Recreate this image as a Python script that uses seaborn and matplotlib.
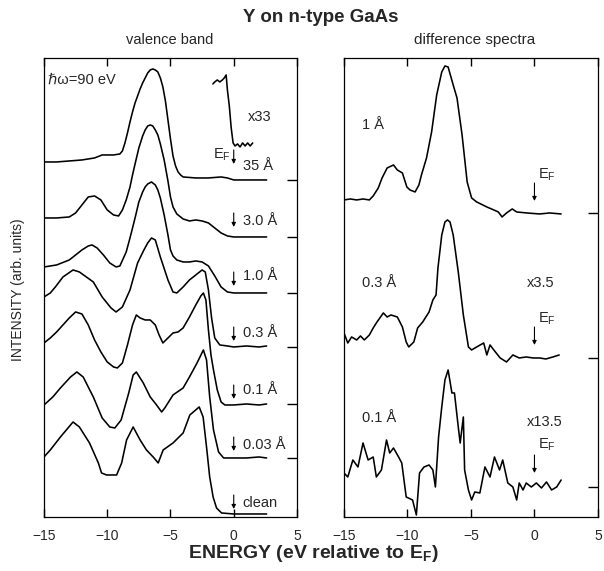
import numpy as np
import pandas as pd
import matplotlib
matplotlib.use('Agg')
import matplotlib.pyplot as plt
import seaborn as sns

# ---------------- data (energy in eV rel. to E_F, intensity arb. units) -------------
vb_labels = ['35 Å', '3.0 Å', '1.0 Å', '0.3 Å', '0.1 Å', '0.03 Å', 'clean']
vb_offsets = [337, 280, 224, 170, 113, 59, 3]

e_35 = [-15, -14, -13, -12, -11, -10.4, -10, -9.5, -9.0, -8.8, -8.6, -8.4, -8.2, -8.0, -7.8,
        -7.6, -7.4, -7.2, -7.0, -6.8, -6.6, -6.4, -6.2, -6.0, -5.8, -5.6, -5.4, -5.2, -5.0,
        -4.8, -4.6, -4.4, -4.2, -4.0, -3.0, -2.0, -1.0, -0.5, 0, 1, 2, 2.6]
i_35 = [18, 18, 19, 20, 22, 25, 25, 25, 26, 29, 37, 47, 58, 68, 77,
        84, 91, 97, 102, 107, 110, 111, 110, 108, 102, 93, 79, 60, 41,
        24, 14, 8, 5, 3, 2, 2, 3, 2, 0, 0, 0, 0]

e_x33 = [-1.65, -1.5, -1.3, -1.1, -0.9, -0.75, -0.6, -0.5, -0.35, -0.2, -0.05, 0.1, 0.3, 0.5,
         0.7, 0.9, 1.1, 1.3, 1.5]
i_x33 = [96, 98, 100, 98, 100, 102, 105, 90, 74, 52, 37, 34, 36, 33, 37, 34, 37, 34, 37]

e_30 = [-15, -14, -13, -12.5, -12, -11.5, -11, -10.5, -10, -9.5, -9.1, -8.8, -8.5, -8.2, -8.0,
        -7.8, -7.5, -7.2, -7.0, -6.8, -6.6, -6.4, -6.2, -6.0, -5.8, -5.5, -5.2, -5.0, -4.8,
        -4.5, -4, -3.5, -3, -2.5, -2, -1.5, -1, -0.5, 0, 1, 2, 2.6]
i_30 = [19, 19, 20, 24, 32, 40, 41, 37, 27, 22, 21, 27, 37, 50, 62,
        73, 89, 101, 107, 111, 112, 111, 107, 102, 93, 77, 56, 40, 30,
        23, 18, 16, 17, 16, 14, 9, 4, 1, 0, 0, 0, 0]

e_10 = [-15, -14, -13, -12.5, -12, -11.5, -11.2, -10.8, -10.3, -9.8, -9.3, -9.0, -8.5, -8.2,
        -8.0, -7.8, -7.5, -7.2, -7.0, -6.8, -6.5, -6.2, -6.0, -5.8, -5.5, -5.2, -5.0, -4.8,
        -4.5, -4, -3.5, -3, -2.5, -2, -1.5, -1, -0.5, 0, 1, 2, 2.6]
i_10 = [26, 28, 33, 38, 43, 47, 48, 45, 38, 30, 26, 27, 41, 55,
        65, 75, 91, 101, 106, 109, 111, 108, 103, 95, 78, 58, 43, 37,
        33, 31, 31, 32, 31, 27, 17, 6, 1, 0, 0, 0, 0]

e_03 = [-15, -14.5, -14.1, -13.5, -12.7, -12.2, -11.1, -10.4, -9.7, -9.3, -8.8, -8.2, -7.6, -7.1,
        -6.8, -6.5, -6.2, -5.8, -5.2, -4.8, -4.5, -4.0, -3.5, -3.0, -2.5, -2.25, -2.0, -1.75,
        -1.5, -1.1, -0.5, 0, 1, 2, 2.6]
i_03 = [50, 54, 60, 70, 77, 75, 65, 50, 39, 35, 40, 57, 84, 97,
        104, 109, 107, 90, 67, 55, 54, 60, 67, 72, 77, 75, 57, 29,
        9, 2, 1, 0, 1, 0, 1]

e_01 = [-15, -14.5, -14, -13.5, -13, -12.5, -12, -11.5, -11, -10.5, -10, -9.5, -9.2, -8.8, -8.4,
        -8.0, -7.7, -7.4, -7.0, -6.6, -6.2, -5.9, -5.6, -5.2, -4.8, -4.4, -4.0, -3.5, -3.0, -2.6,
        -2.4, -2.2, -2.0, -1.8, -1.6, -1.3, -1.0, -0.7, 0, 1, 2, 2.6]
i_01 = [61, 66, 72, 79, 86, 92, 90, 79, 64, 52, 42, 37, 36, 41, 59,
        79, 89, 86, 84, 84, 79, 69, 61, 66, 71, 72, 76, 87, 99, 108,
        111, 104, 74, 49, 34, 14, 2, -1, -1, 0, -1, 0]

e_003 = [-15, -14.3, -13.7, -12.9, -12.4, -11.9, -11.1, -10.4, -9.8, -9.4, -8.9, -8.3, -7.95,
         -7.7, -7.15, -6.6, -6.1, -5.7, -5.45, -4.8, -4.0, -3.5, -2.9, -2.4, -2.15, -1.9, -1.6,
         -1.2, -0.8, 0, 1, 2, 2.6]
i_003 = [53, 61, 70, 81, 86, 81, 61, 40, 31, 30, 38, 65, 83,
         86, 75, 61, 53, 46, 50, 63, 70, 81, 95, 108, 98, 61, 28,
         6, 0, 0, 0, 1, 0]

e_clean = [-15, -14.5, -13.7, -12.7, -12.2, -11.4, -10.7, -10.45, -10.05, -9.26, -8.86, -8.47,
           -7.95, -7.4, -6.9, -6.37, -5.97, -5.58, -4.8, -4.0, -3.47, -2.73, -2.42, -2.15, -1.9,
           -1.63, -1.36, -0.96, 0, 1, 2, 2.6]
i_clean = [57, 64, 77, 92, 87, 71, 51, 41, 39, 39, 51, 74,
           87, 74, 64, 57, 51, 64, 71, 81, 99, 107, 97, 67, 37,
           17, 6, 1, 0, 0, 0, 0]

diff_labels = ['1 Å', '0.3 Å', '0.1 Å']
diff_scales = ['', 'x3.5', 'x13.5']
diff_offsets = [304, 159, 30]

e_d1 = [-15, -14.5, -14.0, -13.5, -13.0, -12.7, -12.3, -12.0, -11.6, -11.1,
        -10.8, -10.4, -10.05, -9.8, -9.4, -9.1, -8.9, -8.5, -8.1, -7.7,
        -7.3, -7.05, -6.8, -6.4, -6.1, -5.7, -5.3, -4.95, -4.55, -3.75,
        -3.2, -2.85, -2.55, -2.2, -1.75, -1.4, -0.6, 0.4, 1.2, 2.1]
i_d1 = [13, 14, 13, 14, 13, 17, 25, 35, 45, 48,
        43, 40, 26, 23, 21, 28, 38, 55, 81, 118,
        141, 147, 146, 128, 115, 78, 31, 15, 11, 6,
        3, 1, -4, 0, 4, 1, 0, -1, 0, -1]

e_d03 = [-15, -14.7, -14.4, -14.0, -13.7, -13.4, -13.0, -12.7, -12.4, -11.9,
         -11.6, -11.3, -10.8, -10.4, -10.1, -9.9, -9.5, -9.2, -8.8, -8.3,
         -8.0, -7.75, -7.6, -7.3, -7.05, -6.85, -6.65, -6.4, -6.0, -5.6,
         -5.2, -4.95, -4.55, -4.0, -3.75, -3.5, -3.2, -2.7, -2.2, -1.7,
         -1.2, -0.65, -0.1, 0.4, 0.9, 1.45, 1.95]
i_d03 = [25, 15, 21, 18, 22, 18, 23, 30, 36, 45,
         41, 43, 41, 31, 16, 11, 16, 30, 36, 46,
         58, 63, 90, 123, 136, 138, 136, 123, 86, 43,
         11, 8, 11, 15, 3, 13, 8, 0, -4, 3,
         0, 1, 0, 0, -1, 1, 3]

e_d01 = [-15, -14.7, -14.3, -13.9, -13.5, -13.1, -12.7, -12.45, -12.05, -11.65,
         -11.4, -11.1, -10.7, -10.45, -10.1, -9.6, -9.3, -9.05, -8.7, -8.3,
         -8.0, -7.8, -7.55, -7.3, -7.05, -6.8, -6.5, -6.3, -6.0, -5.85,
         -5.6, -5.5, -5.2, -4.95, -4.7, -4.3, -3.9, -3.5, -3.15, -2.75,
         -2.5, -2.1, -1.7, -1.4, -1.2, -0.9, -0.65, -0.25, 0.15, 0.55,
         0.95, 1.35, 1.75, 2.1]
i_d01 = [14, 10, 27, 20, 44, 27, 30, 10, 17, 47,
         34, 39, 30, 24, -10, -13, -28, 14, 20, 22,
         17, 0, 50, 80, 107, 117, 94, 94, 60, 44,
         70, 17, -3, -13, -5, -6, 20, 10, 30, 17,
         27, 4, 0, -13, 4, -3, 4, 0, 4, -1,
         5, -3, 0, 7]

x_ticks = [-15, -10, -5, 0, 5]

# ---------------- style ----------------
sns.set_theme(style='ticks')
plt.rcParams['font.family'] = ['Liberation Sans', 'DejaVu Sans']
plt.rcParams['mathtext.fontset'] = 'custom'
plt.rcParams['mathtext.rm'] = 'Liberation Sans'
plt.rcParams['mathtext.bf'] = 'Liberation Sans:bold'
plt.rcParams['axes.linewidth'] = 0.9
plt.rcParams['axes.edgecolor'] = 'black'

fig = plt.figure(figsize=(6.04, 5.71), dpi=100)
axL = fig.add_axes([0.0728, 0.0946, 0.4189, 0.8039])
axR = fig.add_axes([0.5695, 0.0946, 0.4205, 0.8039])

LW = 1.15
vb_series = [(e_35, i_35), (e_30, i_30), (e_10, i_10), (e_03, i_03),
             (e_01, i_01), (e_003, i_003), (e_clean, i_clean)]
for (e, i), off in zip(vb_series, vb_offsets):
    sns.lineplot(x=e, y=np.asarray(i) + off, ax=axL, color='black', lw=LW,
                 estimator=None, sort=False, legend=False)
sns.lineplot(x=e_x33, y=np.asarray(i_x33) + vb_offsets[0], ax=axL, color='black', lw=LW,
             estimator=None, sort=False, legend=False)

diff_series = [(e_d1, i_d1), (e_d03, i_d03), (e_d01, i_d01)]
for (e, i), off in zip(diff_series, diff_offsets):
    sns.lineplot(x=e, y=np.asarray(i) + off, ax=axR, color='black', lw=LW,
                 estimator=None, sort=False, legend=False)

for ax, yt in ((axL, vb_offsets[:-1]), (axR, diff_offsets)):
    ax.set_xlim(-15, 5)
    ax.set_ylim(0, 459)
    ax.set_xlabel('')
    ax.set_ylabel('')
    ax.set_xticks(x_ticks)
    ax.set_xticklabels([f'{t:d}'.replace('-', '\u2212') for t in x_ticks], fontsize=10)
    ax.set_yticks(yt)
    ax.set_yticklabels([])
    ax.tick_params(axis='x', which='major', direction='in', bottom=True, top=True,
                   labelbottom=True, labeltop=False, length=6, width=1.0,
                   color='black', pad=9)
    ax.tick_params(axis='y', which='major', direction='in', left=False, right=True,
                   labelleft=False, labelright=False, length=7, width=1.0, color='black')
    for s in ax.spines.values():
        s.set_visible(True)
        s.set_color('black')

arrow_kw = dict(arrowstyle='-|>', lw=0.8, color='black', mutation_scale=6,
                shrinkA=0, shrinkB=0)
FS = 10.5

# left panel annotations
vb_label_y = [351, 296, 241, 184, 127, 72, 14]
vb_arrow_top = [367, 304, 245, 190, 132, 80, 22]
for lab, ly, at in zip(vb_labels, vb_label_y, vb_arrow_top):
    axL.annotate('', xy=(0, at - 14), xytext=(0, at), arrowprops=arrow_kw)
    axL.text(0.7, ly, lab, fontsize=FS, ha='left', va='center')
axL.text(-0.25, 362, 'E$_\\mathrm{F}$', fontsize=FS, ha='right', va='center')
axL.text(1.1, 400, 'x33', fontsize=FS, ha='left', va='center')
axL.text(-14.7, 437, 'ℏω=90 eV', fontsize=FS, ha='left', va='center')

# right panel annotations
diff_label_y = [392, 234, 99]
diff_scale_y = [392, 234, 95]
ef_text_y = [339, 195, 69]
ef_arrow_top = [334, 190, 62]
for lab, sc, ly, sy, ty, at in zip(diff_labels, diff_scales, diff_label_y, diff_scale_y,
                                    ef_text_y, ef_arrow_top):
    axR.text(-13.6, ly, lab, fontsize=FS, ha='left', va='center')
    if sc:
        axR.text(-0.6, sy, sc, fontsize=FS, ha='left', va='center')
    axR.annotate('', xy=(0, at - 18), xytext=(0, at), arrowprops=arrow_kw)
    axR.text(0.25, ty + 3, 'E$_\\mathrm{F}$', fontsize=FS, ha='left', va='center')

# figure texts
fig.text(0.531, 0.9685, 'Y on n-type GaAs', fontsize=13.5, fontweight='bold',
         ha='center', va='center')
fig.text(0.2815, 0.930, 'valence band', fontsize=FS, ha='center', va='center')
fig.text(0.785, 0.930, 'difference spectra', fontsize=11, ha='center', va='center')
fig.text(0.03, 0.492, 'INTENSITY (arb. units)', fontsize=10, rotation=90,
         ha='center', va='center')
fig.text(0.518, 0.0315, 'ENERGY (eV relative to E$_\\mathbf{F}$)', fontsize=14,
         fontweight='bold', ha='center', va='center')

fig.savefig('out.png', dpi=100, facecolor='white')
